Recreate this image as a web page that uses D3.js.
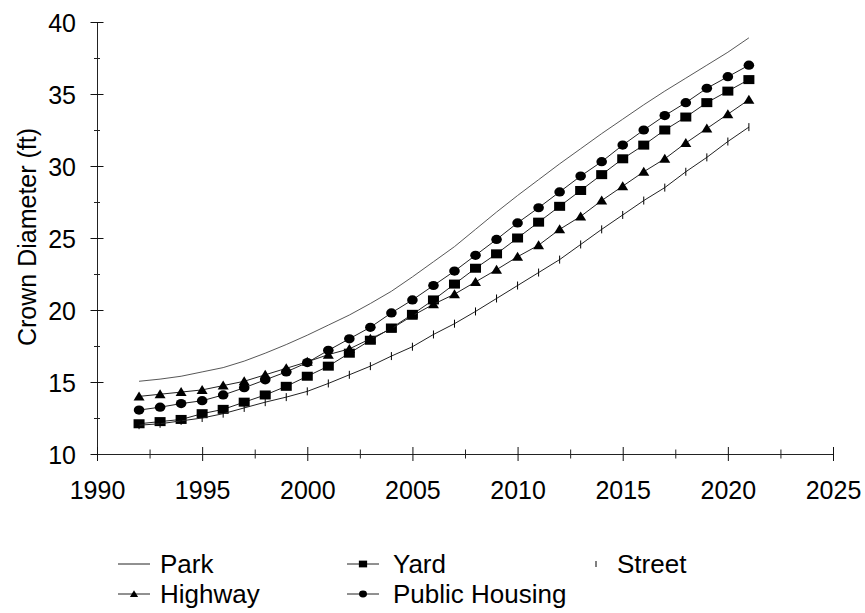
<!DOCTYPE html>
<html>
<head>
<meta charset="utf-8">
<script src="https://cdn.jsdelivr.net/npm/d3@7"></script>
<style>
  html, body { margin: 0; padding: 0; background: #fff; }
  svg { display: block; font-family: "Liberation Sans", Arial, sans-serif; }
</style>
</head>
<body>
<svg id="chart" width="865" height="613"></svg>
<script>
// ---------------- data ----------------
const years = [1992, 1993, 1994, 1995, 1996, 1997, 1998, 1999, 2000, 2001,
               2002, 2003, 2004, 2005, 2006, 2007, 2008, 2009, 2010, 2011,
               2012, 2013, 2014, 2015, 2016, 2017, 2018, 2019, 2020, 2021];

const park = [15.05, 15.2, 15.4, 15.7, 16.0, 16.45, 17.0, 17.6, 18.25, 18.95,
              19.65, 20.45, 21.3, 22.3, 23.35, 24.4, 25.6, 26.8, 27.95, 29.05,
              30.15, 31.2, 32.25, 33.25, 34.25, 35.2, 36.1, 37.0, 37.9, 38.9];

const yard = [12.1, 12.25, 12.4, 12.8, 13.1, 13.6, 14.1, 14.7, 15.4, 16.1,
              17.0, 17.9, 18.75, 19.7, 20.7, 21.8, 22.9, 23.9, 25.0, 26.1,
              27.2, 28.3, 29.4, 30.5, 31.45, 32.5, 33.4, 34.4, 35.2, 36.0];

const street = [12.0, 12.1, 12.3, 12.5, 12.8, 13.2, 13.6, 13.95, 14.35, 14.9,
                15.5, 16.1, 16.8, 17.45, 18.3, 19.05, 19.9, 20.8, 21.7, 22.6,
                23.5, 24.55, 25.6, 26.6, 27.6, 28.5, 29.6, 30.6, 31.7, 32.7];

const highway = [14.0, 14.15, 14.3, 14.45, 14.75, 15.05, 15.5, 15.95, 16.4, 16.9,
                 17.3, 18.0, 18.7, 19.6, 20.4, 21.1, 21.95, 22.8, 23.7, 24.5,
                 25.6, 26.5, 27.6, 28.6, 29.6, 30.5, 31.6, 32.6, 33.6, 34.6];

const publicHousing = [13.05, 13.25, 13.5, 13.7, 14.1, 14.6, 15.15, 15.7, 16.35, 17.2,
                       18.0, 18.8, 19.8, 20.7, 21.7, 22.7, 23.8, 24.9, 26.05, 27.1,
                       28.2, 29.3, 30.3, 31.45, 32.5, 33.5, 34.4, 35.4, 36.2, 37.0];

const xTicks = [1990, 1995, 2000, 2005, 2010, 2015, 2020, 2025];
const xMinorTicks = [1992.5, 1997.5, 2002.5, 2007.5, 2012.5, 2017.5, 2022.5];
const yTicks = [10, 15, 20, 25, 30, 35, 40];
const yMinorTicks = [12.5, 17.5, 22.5, 27.5, 32.5, 37.5];
const yTitle = "Crown Diameter (ft)";

const seriesNames = ["Park", "Yard", "Street", "Highway", "Public Housing"];
const seriesValues = [park, yard, street, highway, publicHousing];
const seriesMarkers = ["none", "square", "tick", "triangle", "circle"];

// ---------------- layout ----------------
const svg = d3.select("#chart");
const x = d3.scaleLinear().domain([1990, 2025]).range([97, 833]);
const y = d3.scaleLinear().domain([10, 40]).range([454, 22]);
const TICK_FONT = 25;
const LEGEND_FONT = 26;

// ---------------- axes ----------------
const yAxis = svg.append("g").attr("transform", `translate(${x(1990)},0)`)
  .call(d3.axisLeft(y).tickValues(yTicks).tickFormat(d3.format("d")).tickSize(6).tickPadding(0));
yAxis.select(".domain").attr("stroke", "#222").attr("stroke-width", 1);
yAxis.selectAll(".tick line").attr("x1", 6.5).attr("x2", -6.5).attr("stroke", "#111");
yAxis.selectAll(".tick text").attr("x", -21).attr("dy", "0.36em")
  .attr("font-size", TICK_FONT).attr("fill", "#000").attr("font-family", "Liberation Sans, Arial, sans-serif");

const yMinor = svg.append("g").attr("transform", `translate(${x(1990)},0)`)
  .call(d3.axisLeft(y).tickValues(yMinorTicks).tickFormat("").tickSize(3));
yMinor.select(".domain").remove();
yMinor.selectAll(".tick line").attr("x1", 3).attr("x2", -3).attr("stroke", "#222");

const xAxis = svg.append("g").attr("transform", `translate(0,${y(10)})`)
  .call(d3.axisBottom(x).tickValues(xTicks).tickFormat(d3.format("d")).tickSize(7));
xAxis.select(".domain").attr("stroke", "#222").attr("stroke-width", 1);
xAxis.selectAll(".tick line").attr("y1", -7).attr("y2", 7).attr("stroke", "#111");
xAxis.selectAll(".tick text").attr("y", 45).attr("dy", 0)
  .attr("font-size", TICK_FONT).attr("fill", "#000").attr("font-family", "Liberation Sans, Arial, sans-serif");

const xMinor = svg.append("g").attr("transform", `translate(0,${y(10)})`)
  .call(d3.axisBottom(x).tickValues(xMinorTicks).tickFormat("").tickSize(4));
xMinor.select(".domain").remove();
xMinor.selectAll(".tick line").attr("y1", -4.5).attr("y2", 4.5).attr("stroke", "#222");

svg.append("text")
  .attr("transform", "translate(36,237) rotate(-90)")
  .attr("text-anchor", "middle")
  .attr("font-size", 25)
  .attr("fill", "#000")
  .text(yTitle);

// ---------------- markers ----------------
function drawMarker(g, type, cx, cy, s) {
  if (type === "square") {
    g.append("rect").attr("x", cx - 5.5 * s).attr("y", cy - 4.5 * s)
      .attr("width", 11 * s).attr("height", 9 * s).attr("fill", "#000");
  } else if (type === "circle") {
    g.append("ellipse").attr("cx", cx).attr("cy", cy).attr("rx", 5.3 * s).attr("ry", 4.6 * s).attr("fill", "#000");
  } else if (type === "triangle") {
    g.append("path")
      .attr("d", `M${cx - 5.5 * s},${cy + 4 * s}L${cx + 5.5 * s},${cy + 4 * s}L${cx},${cy - 5 * s}Z`)
      .attr("fill", "#000");
  } else if (type === "tick") {
    g.append("line").attr("x1", cx).attr("x2", cx).attr("y1", cy - 4 * s).attr("y2", cy + 4 * s)
      .attr("stroke", "#000").attr("stroke-width", 1);
  }
}

// ---------------- series ----------------
const line = d3.line().x(d => x(d[0])).y(d => y(d[1]));
seriesValues.forEach((vals, i) => {
  const pts = years.map((yr, j) => [yr, vals[j]]);
  const g = svg.append("g");
  g.append("path").datum(pts)
    .attr("d", line)
    .attr("fill", "none")
    .attr("stroke", i === 0 ? "#444" : "#222")
    .attr("stroke-width", i === 0 ? 0.9 : 1);
  pts.forEach(p => drawMarker(g, seriesMarkers[i], x(p[0]), y(p[1]), 1));
});

// ---------------- legend ----------------
const legendItems = [
  { i: 0, lx: 118, tx: 160, ty: 573 },
  { i: 1, lx: 347, tx: 393, ty: 573 },
  { i: 2, lx: 580, tx: 617, ty: 573 },
  { i: 3, lx: 118, tx: 160, ty: 603 },
  { i: 4, lx: 347, tx: 393, ty: 603 }
];
const legend = svg.append("g");
legendItems.forEach(it => {
  const g = legend.append("g");
  const ly = it.ty - 9;
  const type = seriesMarkers[it.i];
  if (type !== "tick") {
    g.append("line").attr("x1", it.lx).attr("x2", it.lx + 32).attr("y1", ly).attr("y2", ly)
      .attr("stroke", "#222").attr("stroke-width", 1);
  }
  drawMarker(g, type, it.lx + 16, ly, 0.75);
  g.append("text").attr("x", it.tx).attr("y", it.ty)
    .attr("font-size", LEGEND_FONT).attr("fill", "#000")
    .text(seriesNames[it.i]);
});
</script>
</body>
</html>
